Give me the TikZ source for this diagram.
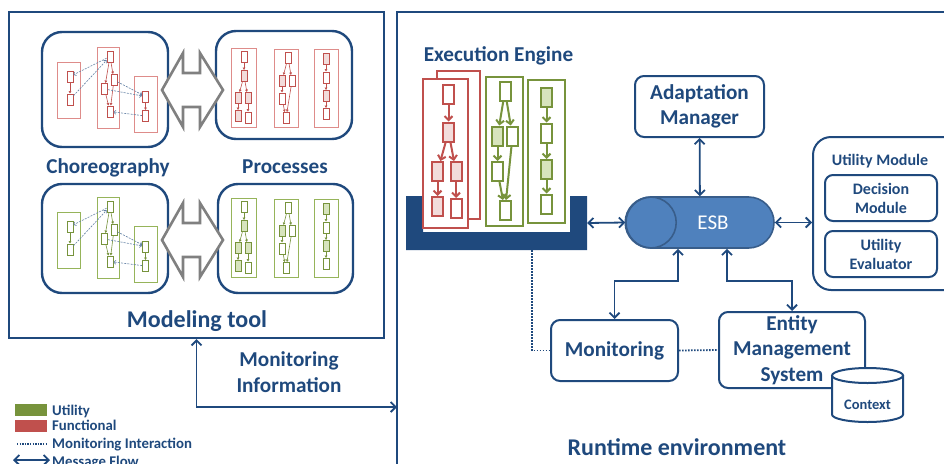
\documentclass[tikz,border=0pt]{standalone}
\usepackage{fontspec}
\setmainfont{Carlito}
\usetikzlibrary{arrows.meta,shapes.misc}

\definecolor{navy}{RGB}{31,73,125}
\definecolor{esbfill}{RGB}{79,129,189}
\definecolor{esbline}{RGB}{56,93,138}
\definecolor{funcred}{RGB}{192,80,77}
\definecolor{funcpink}{RGB}{242,220,219}
\definecolor{funcpool}{RGB}{222,140,138}
\definecolor{utilgreen}{RGB}{119,147,60}
\definecolor{utillight}{RGB}{215,228,189}
\definecolor{utilpool}{RGB}{150,180,90}
\definecolor{arrowgrey}{RGB}{128,128,128}

\tikzset{
  frame/.style={draw=navy, line width=2.4pt, inner sep=0pt},
  panel/.style={draw=navy, line width=2.4pt, rounded corners=20pt, fill=white, inner sep=0pt},
  box/.style={draw=navy, line width=2pt, rounded corners=9pt, fill=white, inner sep=0pt,
    align=center, text=navy, font=\bfseries\fontsize{21.2}{25.5}\selectfont},
  smallbox/.style={draw=navy, line width=2pt, rounded corners=8pt, fill=white, inner sep=0pt,
    align=center, text=navy, font=\bfseries\fontsize{16}{19}\selectfont},
  head/.style={text=navy, font=\bfseries\fontsize{21.2}{25.5}\selectfont, align=center, inner sep=0pt},
  legend/.style={text=navy, font=\bfseries\fontsize{14.8}{16}\selectfont, inner sep=0pt, anchor=base west},
  flow/.style={draw=navy, line width=1.8pt,
    {Straight Barb[length=5pt,width=10pt]}-{Straight Barb[length=5pt,width=10pt]}},
  watch/.style={draw=navy, line width=1.8pt, dash pattern=on 1.6pt off 1.4pt},
  msg/.style={draw=navy!70, line width=0.6pt, dash pattern=on 2pt off 1.2pt,
    -{Straight Barb[length=2pt,width=4pt]}},
  bigarrow/.style={draw=arrowgrey, line width=2.6pt, fill=white, line join=miter}
}

% mini flows of the modeling tool: line colour, fill colour, pool colour, shift, prefix
\newcommand{\modelflows}[5]{%
  \begin{scope}[shift={(0,#4)}, name prefix=#5-,
      task/.style={draw=#1, line width=0.8pt, fill=white, minimum width=6pt, minimum height=11pt, inner sep=0pt},
      full/.style={fill=#2},
      pool/.style={draw=#3, line width=0.8pt, fill=white, inner sep=0pt},
      link/.style={draw=#1, line width=0.6pt, -{Latex[length=2.5pt,width=3pt]}}]
    \node[pool, minimum width=23pt, minimum height=56pt] (c1) at (68.5,90) {};
    \node[pool, minimum width=22pt, minimum height=81pt] (c2) at (108,87.5) {};
    \node[pool, minimum width=23pt, minimum height=56pt] (c3) at (145.5,104) {};
    \node[task] (a1) at (70,76.5) {};
    \node[task] (a2) at (70,99.5) {};
    \node[task] (b1) at (110,56.5) {};
    \node[task] (b2) at (114,80) {};
    \node[task] (b3) at (104.5,89) {};
    \node[task] (b4) at (110,111.5) {};
    \node[task] (d1) at (145.5,96.5) {};
    \node[task] (d2) at (145.5,116) {};
    \draw[link] (a1) -- (a2);
    \draw[link] (b1) -- (b2);
    \draw[link] (b1) -- (b3);
    \draw[link] (b2) -- (b4);
    \draw[link] (b3) -- (b4);
    \draw[link] (d1) -- (d2);
    \draw[msg] (b1) -- (a1);
    \draw[msg] (a2) -- (b1);
    \draw[msg] (b2) -- (d1);
    \draw[msg] (b3) -- (d1);
    \draw[msg] (d2) -- (b4);

    \node[pool, minimum width=25pt, minimum height=79pt] (p1) at (243.5,87.5) {};
    \node[pool, minimum width=24pt, minimum height=78pt] (p2) at (286,88) {};
    \node[pool, minimum width=24pt, minimum height=78pt] (p3) at (326,88) {};
    \node[task] (e1) at (244,56.5) {};
    \node[task, full] (e2) at (244,76) {};
    \node[task, full] (e3) at (238,98) {};
    \node[task, full] (e4) at (248,98) {};
    \node[task, full] (e5) at (238,116) {};
    \node[task] (e6) at (248,117.5) {};
    \draw[link] (e1) -- (e2);
    \draw[link] (e2) -- (e3);
    \draw[link] (e2) -- (e4);
    \draw[link] (e3) -- (e5);
    \draw[link] (e4) -- (e6);
    \node[task] (f1) at (288,57.5) {};
    \node[task, full] (f2) at (282,81) {};
    \node[task] (f3) at (292,81) {};
    \node[task] (f4) at (282,98.5) {};
    \node[task] (f5) at (286,118) {};
    \draw[link] (f1) -- (f2);
    \draw[link] (f1) -- (f3);
    \draw[link] (f2) -- (f4);
    \draw[link] (f4) -- (f5);
    \draw[link] (f3) -- (f5);
    \node[task, full] (g1) at (326,58.5) {};
    \node[task] (g2) at (326,77.5) {};
    \node[task, full] (g3) at (326,96) {};
    \node[task] (g4) at (326,114) {};
    \draw[link] (g1) -- (g2);
    \draw[link] (g2) -- (g3);
    \draw[link] (g3) -- (g4);
  \end{scope}}

\begin{document}
\begin{tikzpicture}[x=1pt, y=-1pt,
    etask/.style={line width=2pt, fill=white, minimum width=11pt, minimum height=19pt, inner sep=0pt},
    epool/.style={line width=2.2pt, fill=white, inner sep=0pt},
    elink/.style={line width=2pt, -{Straight Barb[length=4pt,width=8pt]}}]
  \useasboundingbox (0,0) rectangle (944,463);
  \clip (0,0) rectangle (944,463);

  % modeling tool
  \node[frame, minimum width=375pt, minimum height=326pt] (modeling) at (196.5,175) {};
  \node[panel, minimum width=126pt, minimum height=115pt] (chorf) at (105,89.5) {};
  \node[panel, minimum width=136pt, minimum height=108pt] (procf) at (284,85) {};
  \node[panel, minimum width=126pt, minimum height=109pt] (choru) at (105,238.5) {};
  \node[panel, minimum width=135pt, minimum height=109pt] (procu) at (285.5,238.5) {};
  \foreach \yc in {90,240}
    \draw[bigarrow] (162,\yc) -- (183,\yc-37) -- (183,\yc-17) -- (200,\yc-17) -- (200,\yc-37)
      -- (223,\yc) -- (200,\yc+37) -- (200,\yc+17) -- (183,\yc+17) -- (183,\yc+37) -- cycle;
  \modelflows{funcred}{funcpink}{funcpool}{0}{red}
  \modelflows{utilgreen}{utillight}{utilpool}{150}{green}
  \node[head, anchor=base] (chorlabel) at (108,173) {Choreography};
  \node[head, anchor=base] (proclabel) at (285,173) {Processes};
  \node[head, anchor=base, font=\bfseries\fontsize{24}{28}\selectfont] (modlabel) at (197,327.5) {Modeling tool};

  % runtime environment
  \draw[navy, line width=2.4pt] (950,12) -- (397,12) -- (397,470);
  \coordinate (rtedge) at (397,407);
  \draw[flow] (modeling.south) |- (rtedge);
  \node[head, anchor=base] (moninfo) at (289,366) {Monitoring};
  \node[head, anchor=base] (moninfo2) at (289,392.5) {Information};

  \node[head, anchor=base] (enginelabel) at (498.5,61) {Execution Engine};
  \node[inner sep=0pt, minimum width=181pt, minimum height=54pt] (engine) at (496.5,223) {};
  \fill[navy] (406,196) -- (423,196) -- (423,232) -- (570,232) -- (570,196) -- (587,196)
    -- (587,250) -- (406,250) -- cycle;
  \node[epool, draw=funcred, minimum width=43pt, minimum height=148pt] (rback) at (458.5,145) {};
  \node[epool, draw=funcred, minimum width=45pt, minimum height=149pt] (rfront) at (445.5,153.5) {};
  \node[etask, draw=funcred] (r1) at (448.5,94) {};
  \node[etask, draw=funcred, fill=funcpink] (r2) at (448.5,132) {};
  \node[etask, draw=funcred, fill=funcpink] (r3) at (437.5,171.5) {};
  \node[etask, draw=funcred, fill=funcpink] (r4) at (456,171.5) {};
  \node[etask, draw=funcred, fill=funcpink] (r5) at (437.5,206.5) {};
  \node[etask, draw=funcred] (r6) at (456,208.5) {};
  \draw[elink, funcred] (r1) -- (r2);
  \draw[elink, funcred] (r2) -- (r3);
  \draw[elink, funcred] (r2) -- (r4);
  \draw[elink, funcred] (r3) -- (r5);
  \draw[elink, funcred] (r4) -- (r6);
  \node[epool, draw=utilgreen, minimum width=37pt, minimum height=149pt] (gpool1) at (504.5,151.5) {};
  \node[etask, draw=utilgreen] (s1) at (505,91) {};
  \node[etask, draw=utilgreen, fill=utillight] (s2) at (497.5,136) {};
  \node[etask, draw=utilgreen] (s3) at (512.5,136) {};
  \node[etask, draw=utilgreen] (s4) at (497.5,171.5) {};
  \node[etask, draw=utilgreen] (s5) at (505,210.5) {};
  \draw[elink, utilgreen] (s1) -- (s2);
  \draw[elink, utilgreen] (s1) -- (s3);
  \draw[elink, utilgreen] (s2) -- (s4);
  \draw[elink, utilgreen] (s4) -- (s5);
  \draw[elink, utilgreen] (s3) -- (s5);
  \node[epool, draw=utilgreen, minimum width=37pt, minimum height=143pt] (gpool2) at (546.5,151.5) {};
  \node[etask, draw=utilgreen, fill=utillight] (t1) at (546.5,97) {};
  \node[etask, draw=utilgreen] (t2) at (546.5,133) {};
  \node[etask, draw=utilgreen, fill=utillight] (t3) at (546.5,169.5) {};
  \node[etask, draw=utilgreen] (t4) at (546.5,204) {};
  \draw[elink, utilgreen] (t1) -- (t2);
  \draw[elink, utilgreen] (t2) -- (t3);
  \draw[elink, utilgreen] (t3) -- (t4);

  \node[box, minimum width=129pt, minimum height=61pt] (adapt) at (699.5,106.5) {Adaptation\\Manager};
  \node[rounded rectangle, draw=esbline, fill=esbfill, line width=1.6pt, minimum width=148pt,
    minimum height=51pt, inner sep=0pt, text=white, font=\fontsize{21}{24}\selectfont] (esb)
    at (700,222.5) {\hspace*{26pt}ESB};
  \draw[esbline, line width=1.6pt] ([xshift=25.5pt]esb.west) circle[radius=25.5];

  \node[draw=navy, line width=2pt, rounded corners=18pt, fill=white, inner sep=0pt,
    minimum width=150pt, minimum height=153pt] (utility) at (888,213.5) {};
  \node[text=navy, font=\bfseries\fontsize{16}{19}\selectfont, anchor=base] (utillabel) at (880,165) {Utility Module};
  \node[smallbox, minimum width=112pt, minimum height=46pt] (decision) at (881,198) {Decision\\Module};
  \node[smallbox, minimum width=112pt, minimum height=46pt] (evaluator) at (881,254) {Utility\\Evaluator};

  \node[box, minimum width=127pt, minimum height=61pt] (monitor) at (614.5,350.5) {Monitoring};
  \node[box, minimum width=146pt, minimum height=76pt] (ems) at (792,350) {Entity\\Management\\System};
  \fill[white] (832,375.5) -- (832,414.5) arc[start angle=180, end angle=0, x radius=35.5, y radius=7.5]
    -- (903,375.5) arc[start angle=0, end angle=-180, x radius=35.5, y radius=7.5] -- cycle;
  \draw[navy, line width=2pt] (832,375.5) -- (832,414.5) arc[start angle=180, end angle=0, x radius=35.5, y radius=7.5]
    -- (903,375.5);
  \draw[navy, line width=2pt] (867.5,375.5) ellipse[x radius=35.5, y radius=7.5];
  \node[text=navy, font=\bfseries\fontsize{14.5}{16}\selectfont, anchor=base] (context) at (867.5,409) {Context};

  \draw[flow] (adapt) -- (esb);
  \draw[flow] (engine.east) -- (esb.west);
  \draw[flow] (esb.east) -- (esb.east -| utility.west);
  \draw[flow] ([xshift=-22pt]esb.south) -- ++(0,32) -| (monitor.north);
  \draw[flow] ([xshift=27pt]esb.south) -- ++(0,32) -| (ems.north);
  \draw[watch] ([xshift=35.5pt]engine.south) |- (monitor.west);
  \draw[watch] (monitor.east) -- (ems.west);
  \node[head, anchor=base, font=\bfseries\fontsize{24}{28}\selectfont] (rtlabel) at (677,455) {Runtime environment};

  % legend
  \fill[utilgreen] (15,404) rectangle (47,416);
  \fill[funcred] (15,420) rectangle (47,432);
  \node[legend] (lutil) at (52,415) {Utility};
  \node[legend] (lfunc) at (52,430) {Functional};
  \coordinate (ldot1) at (17,444);
  \coordinate (ldot2) at (47,444);
  \draw[navy, line width=1.6pt, dash pattern=on 1.4pt off 1.2pt] (ldot1) -- (ldot2);
  \node[legend] (lmon) at (52,448) {Monitoring Interaction};
  \coordinate (lflow1) at (13,460);
  \coordinate (lflow2) at (50,460);
  \draw[flow] (lflow1) -- (lflow2);
  \node[legend] (lmsg) at (52,466.5) {Message Flow};
\end{tikzpicture}
\end{document}
